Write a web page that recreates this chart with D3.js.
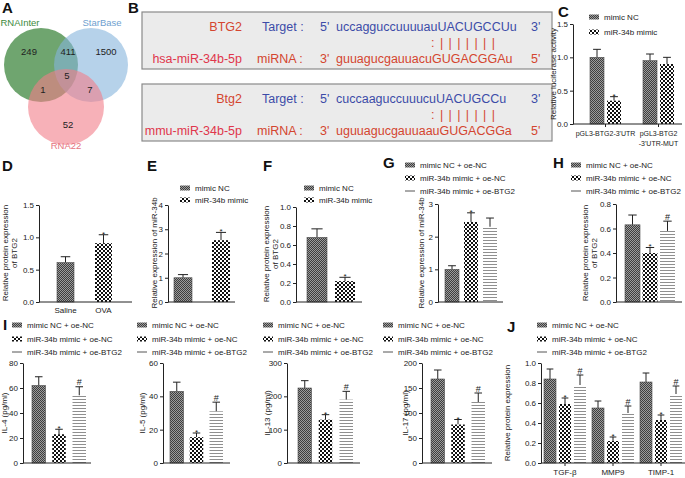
<!DOCTYPE html>
<html><head><meta charset="utf-8">
<script src="https://cdn.jsdelivr.net/npm/d3@7"></script>
<style>
body{margin:0;background:#fff}
svg{display:block;font-family:"Liberation Sans",Arial,sans-serif}
</style></head><body><svg id="fig" width="685" height="478"></svg>
<script>
// ---- data ----
var vennSets = ["RNAInter", "StarBase", "RNA22"];
var vennCounts = [249, 411, 1500, 5, 1, 7, 52];

var bGenes = ["BTG2", "Btg2"];
var bMirnas = ["hsa-miR-34b-5p", "mmu-miR-34b-5p"];
var bTargets = ["uccagguccuuuuauUACUGCCUu", "cuccaaguccuuucuUACUGCCu"];
var bMirSeqs = ["guuagucgauuacuGUGACGGAu", "uguuagucgauuaauGUGACGGa"];

var twoSeries = ["mimic NC", "miR-34b mimic"];
var threeSeries = ["mimic NC + oe-NC", "miR-34b mimic + oe-NC", "miR-34b mimic + oe-BTG2"];

var cGroups = ["pGL3-BTG2-3'UTR", "pGL3-BTG2-3'UTR-MUT"];
var cLabels = [["pGL3-BTG2-3'UTR"], ["pGL3-BTG2", "-3'UTR-MUT"]];
var cMeans = [[1.0, 0.35], [0.95, 0.90]];
var cErrs = [[0.12, 0.06], [0.10, 0.10]];
var cMarks = [["", "*"], ["", ""]];

var dCats = ["Saline", "OVA"];
var dMeans = [0.61, 0.91];
var dErrs = [0.09, 0.13];
var dMarks = ["", "*"];

var eMeans = [1.0, 2.55];
var eErrs = [0.13, 0.32];
var fMeans = [0.68, 0.22];
var fErrs = [0.09, 0.04];
var twoMarks = ["", "*"];

var gMeans = [1.0, 2.45, 2.3];
var gErrs = [0.11, 0.28, 0.27];
var gMarks = ["", "*", ""];
var hMeans = [0.63, 0.40, 0.58];
var hErrs = [0.08, 0.045, 0.08];
var threeMarks = ["", "*", "#"];

var il4 = [62, 23, 54], il4Err = [7, 4, 7];
var il5 = [43, 15.5, 31], il5Err = [5.5, 2.5, 5.5];
var il13 = [225, 130, 190], il13Err = [22, 15, 25];
var il17 = [168, 77, 122], il17Err = [18, 10, 18];

var jGroups = ["TGF-\u03B2", "MMP9", "TIMP-1"];
var jMeans = [[0.84, 0.59, 0.78], [0.55, 0.22, 0.50], [0.81, 0.43, 0.69]];
var jErrs = [[0.10, 0.06, 0.10], [0.07, 0.04, 0.07], [0.09, 0.05, 0.08]];
var jMarks = [["", "*", "#"], ["", "*", "#"], ["", "*", "#"]];

// ---- setup ----
var svg = d3.select("#fig");
var defs = svg.append("defs");

var pNC = defs.append("pattern").attr("id", "pNC").attr("patternUnits", "userSpaceOnUse")
  .attr("width", 2).attr("height", 2);
pNC.append("rect").attr("width", 2).attr("height", 2).attr("fill", "#9c9c9c");
pNC.append("rect").attr("width", 1).attr("height", 1).attr("fill", "#3e3e3e");
pNC.append("rect").attr("x", 1).attr("y", 1).attr("width", 1).attr("height", 1).attr("fill", "#3e3e3e");

var pMiR = defs.append("pattern").attr("id", "pMiR").attr("patternUnits", "userSpaceOnUse")
  .attr("width", 4).attr("height", 4);
pMiR.append("rect").attr("width", 4).attr("height", 4).attr("fill", "#fff");
pMiR.append("rect").attr("width", 2).attr("height", 2).attr("fill", "#111");
pMiR.append("rect").attr("x", 2).attr("y", 2).attr("width", 2).attr("height", 2).attr("fill", "#111");

var pOE = defs.append("pattern").attr("id", "pOE").attr("patternUnits", "userSpaceOnUse")
  .attr("width", 4).attr("height", 3);
pOE.append("rect").attr("width", 4).attr("height", 3).attr("fill", "#fff");
pOE.append("rect").attr("width", 4).attr("height", 1).attr("fill", "#8f8f8f");

var pats = ["url(#pNC)", "url(#pMiR)", "url(#pOE)"];
var ink = "#222";
var font = "'Liberation Sans', Arial, sans-serif";

function letter(t, x, y) {
  svg.append("text").attr("x", x).attr("y", y).text(t)
    .attr("font-size", 15).attr("font-weight", "bold").attr("fill", "#111");
}

function bandPad(n, span, w) {
  if (n < 2) return 0;
  var step = (span - w) / (n - 1);
  return 1 - w / step;
}

function legend(x, ys, names) {
  var g = svg.append("g");
  names.forEach(function(nm, i) {
    var yy = ys[i];
    if (i < 2) {
      g.append("rect").attr("x", x).attr("y", yy - 2.5).attr("width", 10).attr("height", 5)
        .attr("fill", pats[i]);
    } else {
      g.append("line").attr("x1", x).attr("x2", x + 10).attr("y1", yy).attr("y2", yy)
        .attr("stroke", "#555").attr("stroke-width", 1);
    }
    g.append("text").attr("x", x + 15).attr("y", yy).attr("dy", "0.35em")
      .attr("font-size", 8).attr("fill", ink).text(nm);
  });
}

function ylabel(x, cy, lines) {
  var t = svg.append("text").attr("transform", "translate(" + x + "," + cy + ") rotate(-90)")
    .attr("text-anchor", "middle").attr("font-size", 8).attr("fill", ink);
  lines.forEach(function(l, i) {
    t.append("tspan").attr("x", 0).attr("dy", i ? 8.5 : 0).text(l);
  });
}

// generic GraphPad-like bar panel
function barPanel(o) {
  var g = svg.append("g");
  var y = d3.scaleLinear().domain([0, o.max]).range([o.y0, o.y1]);
  var gx = d3.scaleBand().domain(o.groups).range([o.r0, o.r1])
    .paddingInner(bandPad(o.groups.length, o.r1 - o.r0, o.gw)).paddingOuter(0);
  var ns = o.means[0].length;
  var sx = d3.scaleBand().domain(d3.range(ns)).range([0, gx.bandwidth()])
    .paddingInner(bandPad(ns, gx.bandwidth(), o.bw)).paddingOuter(0);
  var bw = sx.bandwidth();

  o.groups.forEach(function(grp, gi) {
    var gg = g.append("g").attr("transform", "translate(" + gx(grp) + ",0)");
    var rows = o.means[gi].map(function(v, i) {
      return {v: v, e: o.errs[gi][i], m: o.marks[gi][i], i: i};
    });
    // error bars first (behind bars)
    gg.selectAll("line.eb").data(rows).join("line")
      .attr("x1", function(d) { return sx(d.i) + bw / 2; })
      .attr("x2", function(d) { return sx(d.i) + bw / 2; })
      .attr("y1", function(d) { return y(d.v); })
      .attr("y2", function(d) { return y(d.v + d.e); })
      .attr("stroke", ink).attr("stroke-width", 1);
    gg.selectAll("line.cap").data(rows).join("line").attr("class", "cap")
      .attr("x1", function(d) { return sx(d.i) + bw * 0.22; })
      .attr("x2", function(d) { return sx(d.i) + bw * 0.78; })
      .attr("y1", function(d) { return y(d.v + d.e); })
      .attr("y2", function(d) { return y(d.v + d.e); })
      .attr("stroke", ink).attr("stroke-width", 1);
    gg.selectAll("rect.bar").data(rows).join("rect").attr("class", "bar")
      .attr("x", function(d) { return sx(d.i); })
      .attr("y", function(d) { return y(d.v); })
      .attr("width", bw)
      .attr("height", function(d) { return o.y0 - y(d.v); })
      .attr("fill", function(d) { return pats[d.i]; })
      .attr("stroke", function(d) { return d.i === 0 ? "#4a4a4a" : "none"; })
      .attr("stroke-width", 0.6);
    gg.selectAll("text.mk").data(rows.filter(function(d) { return d.m; })).join("text")
      .attr("x", function(d) { return sx(d.i) + bw / 2; })
      .attr("y", function(d) { return y(d.v + d.e) - (d.m === "*" ? -2 : 1.5); })
      .attr("text-anchor", "middle")
      .attr("font-size", function(d) { return d.m === "*" ? 8 : 9; })
      .attr("fill", ink).text(function(d) { return d.m; });
    if (o.barLabels) {
      gg.selectAll("text.bl").data(rows).join("text")
        .attr("x", function(d) { return sx(d.i) + bw / 2; })
        .attr("y", o.y0 + 11).attr("text-anchor", "middle")
        .attr("font-size", 8).attr("fill", ink)
        .text(function(d) { return o.barLabels[d.i]; });
    }
  });

  // axes
  var ya = g.append("g").attr("transform", "translate(" + o.ax + ",0)")
    .call(d3.axisLeft(y).tickValues(o.ticks).tickSize(3).tickSizeOuter(0).tickPadding(2)
      .tickFormat(d3.format(o.fmt)));
  ya.attr("font-family", font).attr("font-size", 8);
  ya.selectAll("text").attr("fill", ink);
  ya.selectAll("line,path").attr("stroke", ink);
  g.append("line").attr("x1", o.ax).attr("x2", o.ax2).attr("y1", o.y0).attr("y2", o.y0)
    .attr("stroke", ink);

  if (o.groupLabels) {
    o.groups.forEach(function(grp, gi) {
      var cx = gx(grp) + gx.bandwidth() / 2;
      g.append("line").attr("x1", cx).attr("x2", cx).attr("y1", o.y0).attr("y2", o.y0 + 3)
        .attr("stroke", ink);
      var t = g.append("text").attr("x", cx).attr("y", o.y0 + 12).attr("text-anchor", "middle")
        .attr("font-size", o.glSize || 8).attr("fill", ink);
      o.groupLabels[gi].forEach(function(l, k) {
        t.append("tspan").attr("x", cx).attr("dy", k ? 10 : 0).text(l);
      });
    });
  }
}

// ---- A: Venn ----
letter("A", 2, 13);
var vennColors = ["#2b7a2b", "#86b4dc", "#f27d89"];
var vennText = ["#3d8a3d", "#6f9fcf", "#e57380"];
var vennPos = [[41, 65, 37], [91, 65, 37], [66, 107, 38]];
svg.append("g").selectAll("circle").data(vennSets).join("circle")
  .attr("cx", function(d, i) { return vennPos[i][0]; })
  .attr("cy", function(d, i) { return vennPos[i][1]; })
  .attr("r", function(d, i) { return vennPos[i][2]; })
  .attr("fill", function(d, i) { return vennColors[i]; })
  .attr("fill-opacity", function(d, i) { return i === 0 ? 0.68 : 0.6; });
var vennLabelPos = [[20, 23], [102, 23], [66, 146]];
svg.append("g").selectAll("text").data(vennSets).join("text")
  .attr("x", function(d, i) { return vennLabelPos[i][0]; })
  .attr("y", function(d, i) { return vennLabelPos[i][1]; })
  .attr("dy", "0.35em").attr("text-anchor", "middle").attr("font-size", 9.5)
  .attr("fill", function(d, i) { return vennText[i]; }).text(function(d) { return d; });
var countPos = [[29, 52], [68, 52], [106, 52], [67, 76], [43, 90], [90, 90], [68, 125]];
svg.append("g").selectAll("text").data(vennCounts).join("text")
  .attr("x", function(d, i) { return countPos[i][0]; })
  .attr("y", function(d, i) { return countPos[i][1]; })
  .attr("dy", "0.35em").attr("text-anchor", "middle").attr("font-size", 9.5)
  .attr("fill", "#222").text(function(d) { return d; });

// ---- B: binding sites ----
letter("B", 128, 13);
var red = "#d4452f", pink = "#e0364c", blue = "#3c4ba8";
bGenes.forEach(function(gene, k) {
  var top = k === 0 ? 12 : 84;
  var g = svg.append("g").attr("font-size", 12.5);
  g.append("rect").attr("x", 142).attr("y", top).attr("width", 410).attr("height", 57)
    .attr("fill", "#ebebeb").attr("stroke", "#8a8a8a").attr("stroke-width", 1.2);
  var r1 = top + 15, r2 = top + 31, r3 = top + 47;
  g.append("text").attr("x", 242).attr("y", r1).attr("dy", "0.35em").attr("text-anchor", "end").attr("fill", red).text(gene);
  g.append("text").attr("x", 262).attr("y", r1).attr("dy", "0.35em").attr("fill", blue).text("Target :");
  g.append("text").attr("x", 320).attr("y", r1).attr("dy", "0.35em").attr("fill", blue).text("5'");
  g.append("text").attr("x", 336).attr("y", r1).attr("dy", "0.35em").attr("fill", blue).text(bTargets[k]);
  g.append("text").attr("x", 531).attr("y", r1).attr("dy", "0.35em").attr("fill", blue).text("3'");
  g.append("text").attr("x", 431).attr("y", r2).attr("dy", "0.35em").attr("fill", red)
    .attr("textLength", 64).attr("lengthAdjust", "spacing").text(": | | | | | | |");
  g.append("text").attr("x", 242).attr("y", r3).attr("dy", "0.35em").attr("text-anchor", "end").attr("fill", pink).text(bMirnas[k]);
  g.append("text").attr("x", 257).attr("y", r3).attr("dy", "0.35em").attr("fill", red).text("miRNA :");
  g.append("text").attr("x", 320).attr("y", r3).attr("dy", "0.35em").attr("fill", red).text("3'");
  g.append("text").attr("x", 336).attr("y", r3).attr("dy", "0.35em").attr("fill", red).text(bMirSeqs[k]);
  g.append("text").attr("x", 531).attr("y", r3).attr("dy", "0.35em").attr("fill", red).text("5'");
});

// ---- C ----
letter("C", 558, 17);
barPanel({ax: 573, ax2: 682, y0: 124, y1: 24, max: 1.5, ticks: [0, 0.5, 1, 1.5], fmt: ".1f",
  groups: cGroups, r0: 590, r1: 674, gw: 31, bw: 14,
  means: cMeans, errs: cErrs, marks: cMarks, groupLabels: cLabels, glSize: 7});
legend(589, [17, 32], twoSeries);
ylabel(556, 74, ["Relative luciferase activity"]);

// ---- D ----
letter("D", 2, 171);
barPanel({ax: 39, ax2: 132, y0: 302, y1: 205, max: 1.5, ticks: [0, 0.5, 1, 1.5], fmt: ".1f",
  groups: ["d"], r0: 57, r1: 112, gw: 55, bw: 17,
  means: [dMeans], errs: [dErrs], marks: [dMarks], barLabels: dCats});
ylabel(8, 253, ["Relative protein expression", "of BTG2"]);

// ---- E ----
letter("E", 147, 171);
barPanel({ax: 168, ax2: 235, y0: 302, y1: 205, max: 4, ticks: [0, 1, 2, 3, 4], fmt: "d",
  groups: ["e"], r0: 174, r1: 230, gw: 56, bw: 18,
  means: [eMeans], errs: [eErrs], marks: [twoMarks]});
legend(180, [188, 200], twoSeries);
ylabel(157, 253, ["Relative expression of  miR-34b"]);

// ---- F ----
letter("F", 263, 171);
barPanel({ax: 296, ax2: 362, y0: 302, y1: 207, max: 1, ticks: [0, 0.2, 0.4, 0.6, 0.8, 1], fmt: ".1f",
  groups: ["f"], r0: 307, r1: 355, gw: 48, bw: 20,
  means: [fMeans], errs: [fErrs], marks: [twoMarks]});
legend(304, [188, 200], twoSeries);
ylabel(269, 254, ["Relative protein expression", "of BTG2"]);

// ---- G ----
letter("G", 383, 168);
barPanel({ax: 438, ax2: 503, y0: 302, y1: 204, max: 3, ticks: [0, 1, 2, 3], fmt: "d",
  groups: ["g"], r0: 445, r1: 497, gw: 52, bw: 14,
  means: [gMeans], errs: [gErrs], marks: [gMarks]});
legend(405, [165, 178, 191], threeSeries);
ylabel(424, 253, ["Relative expression of  miR-34b"]);

// ---- H ----
letter("H", 553, 168);
barPanel({ax: 616, ax2: 682, y0: 302, y1: 204, max: 0.8, ticks: [0, 0.2, 0.4, 0.6, 0.8], fmt: ".1f",
  groups: ["h"], r0: 625, r1: 675, gw: 50, bw: 15,
  means: [hMeans], errs: [hErrs], marks: [threeMarks]});
legend(571, [165, 178, 191], threeSeries);
ylabel(588, 253, ["Relative protein expression", "of BTG2"]);

// ---- I ----
letter("I", 3, 330);
var iPanels = [
  {ax: 23, ax2: 91, max: 80, ticks: [0, 20, 40, 60, 80], r0: 32, r1: 86, lx: 12, yl: 7, name: "IL-4 (pg/ml)", m: il4, e: il4Err},
  {ax: 163, ax2: 230, max: 60, ticks: [0, 20, 40, 60], r0: 170, r1: 223, lx: 137, yl: 145, name: "IL-5 (pg/ml)", m: il5, e: il5Err},
  {ax: 287, ax2: 360, max: 300, ticks: [0, 100, 200, 300], r0: 298, r1: 353, lx: 263, yl: 270, name: "IL-13 (pg/ml)", m: il13, e: il13Err},
  {ax: 422, ax2: 492, max: 200, ticks: [0, 50, 100, 150, 200], r0: 431, r1: 485, lx: 383, yl: 408, name: "IL-17 (pg/ml)", m: il17, e: il17Err}
];
iPanels.forEach(function(p) {
  barPanel({ax: p.ax, ax2: p.ax2, y0: 463, y1: 363, max: p.max, ticks: p.ticks, fmt: "d",
    groups: ["i"], r0: p.r0, r1: p.r1, gw: p.r1 - p.r0, bw: 13.5,
    means: [p.m], errs: [p.e], marks: [threeMarks]});
  legend(p.lx, [325, 339, 352], threeSeries);
  ylabel(p.yl, 413, [p.name]);
});

// ---- J ----
letter("J", 507, 332);
barPanel({ax: 541, ax2: 685, y0: 463, y1: 363, max: 1, ticks: [0, 0.2, 0.4, 0.6, 0.8, 1], fmt: ".1f",
  groups: jGroups, r0: 544, r1: 682, gw: 42, bw: 12,
  means: jMeans, errs: jErrs, marks: jMarks, groupLabels: jGroups.map(function(d) { return [d]; })});
legend(537, [325, 339, 352], threeSeries);
ylabel(510, 413, ["Relative protein expression"]);
</script></body></html>
